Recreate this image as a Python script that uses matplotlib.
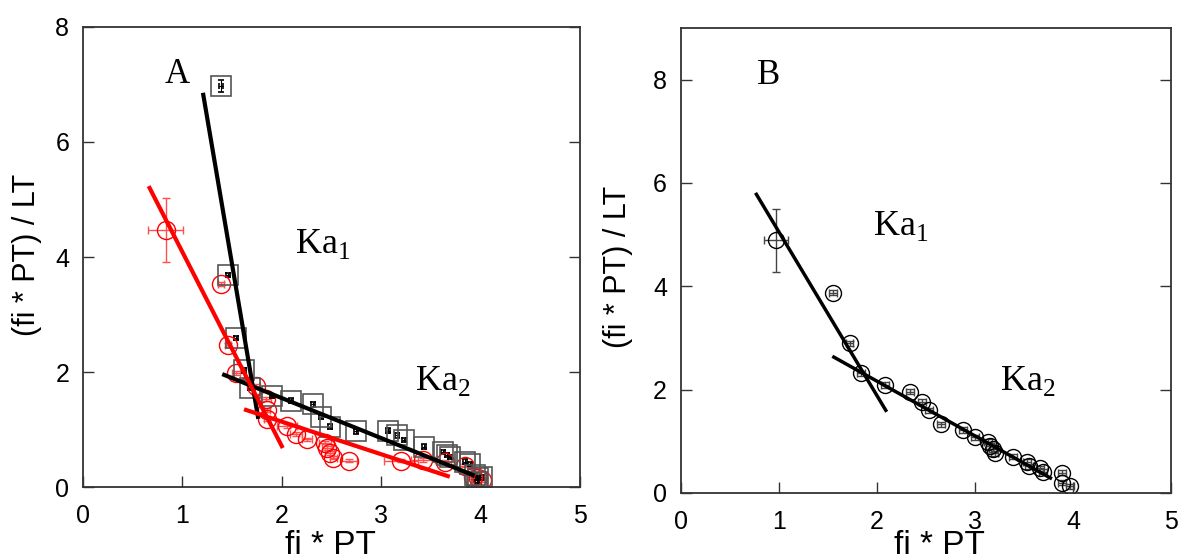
import matplotlib
matplotlib.use('Agg')
import matplotlib.pyplot as plt

plt.rcParams['font.family'] = ['Liberation Sans', 'DejaVu Sans']
plt.rcParams['mathtext.fontset'] = 'custom'
plt.rcParams['mathtext.rm'] = 'Liberation Serif'

# panel A, black squares
a_sq_x = [1.39, 1.46, 1.54, 1.62, 1.68, 1.90, 2.09, 2.31, 2.39, 2.48, 2.75, 3.07, 3.16, 3.23,
          3.43, 3.62, 3.66, 3.69, 3.84, 3.89, 3.94, 3.97, 4.01, 3.96]
a_sq_y = [6.97, 3.69, 2.59, 2.03, 1.72, 1.58, 1.50, 1.44, 1.22, 1.05, 0.97, 0.98, 0.90, 0.82,
          0.70, 0.61, 0.56, 0.52, 0.44, 0.40, 0.21, 0.16, 0.17, 0.09]
a_sq_xerr = [0.02] * len(a_sq_x)
a_sq_yerr = [0.10] + [0.04] * (len(a_sq_x) - 1)

# panel A, red circles
a_ci_x = [0.83, 1.39, 1.46, 1.54, 1.74, 1.84, 1.85, 1.85, 2.05, 2.14, 2.25, 2.43, 2.45, 2.48,
          2.52, 2.68, 3.20, 3.42, 3.64, 3.84, 3.92, 3.97, 4.01]
a_ci_y = [4.47, 3.53, 2.47, 1.98, 1.76, 1.53, 1.34, 1.18, 1.06, 0.92, 0.83, 0.77, 0.68, 0.59,
          0.51, 0.46, 0.46, 0.47, 0.44, 0.37, 0.17, 0.15, 0.12]
a_ci_xerr = [0.18, 0.03, 0.03, 0.04, 0.04, 0.05, 0.03, 0.03, 0.10, 0.06, 0.05, 0.06, 0.05, 0.05,
             0.04, 0.08, 0.17, 0.12, 0.06, 0.05, 0.04, 0.04, 0.04]
a_ci_yerr = [0.56] + [0.03] * (len(a_ci_x) - 1)

# panel A fit lines (end points)
a_black_steep = ([1.21, 1.76], [6.82, 1.22])
a_black_flat = ([1.42, 3.92], [1.95, 0.21])
a_red_steep = ([0.67, 2.00], [5.20, 0.71])
a_red_flat = ([1.64, 3.67], [1.34, 0.19])

# panel B, black circles
b_x = [0.97, 1.55, 1.72, 1.84, 2.08, 2.34, 2.46, 2.53, 2.65, 2.88, 3.00, 3.13, 3.15, 3.18,
       3.20, 3.39, 3.53, 3.55, 3.66, 3.69, 3.89, 3.89, 3.97]
b_y = [4.89, 3.88, 2.90, 2.32, 2.09, 1.96, 1.77, 1.60, 1.33, 1.22, 1.08, 0.99, 0.91, 0.85,
       0.77, 0.70, 0.60, 0.52, 0.48, 0.41, 0.39, 0.20, 0.13]
b_xerr = [0.12] + [0.04] * (len(b_x) - 1)
b_yerr = [0.61] + [0.05] * (len(b_x) - 1)

b_steep = ([0.77, 2.09], [5.78, 1.60])
b_flat = ([1.56, 3.77], [2.63, 0.29])


def style_axes(ax, ymax, yticks):
    ax.set_xlim(0, 5)
    ax.set_ylim(0, ymax)
    ax.set_xticks([0, 1, 2, 3, 4, 5])
    ax.set_yticks(yticks)
    ax.tick_params(direction='in', length=8, width=1, labelsize=18, right=True, color='#333333')
    ax.tick_params(axis='x', pad=12)
    ax.tick_params(axis='y', pad=10)
    for s in ax.spines.values():
        s.set_linewidth(1.3)
        s.set_color('#333333')


fig = plt.figure(figsize=(11.81, 5.59), dpi=100)
ax1 = fig.add_axes([0.0703, 0.1288, 0.4208, 0.8229])
ax2 = fig.add_axes([0.5766, 0.1181, 0.4149, 0.8318])

# panel A
ax1.errorbar(a_ci_x, a_ci_y, xerr=a_ci_xerr, yerr=a_ci_yerr, fmt='o', ms=13, mfc='none',
             mec='red', mew=1.0, ecolor='#ff5050', elinewidth=1.0, capsize=3, zorder=2)
ax1.errorbar(a_sq_x, a_sq_y, xerr=a_sq_xerr, yerr=a_sq_yerr, fmt='s', ms=14.5, mfc='none',
             mec='#555555', mew=1.2, ecolor='black', elinewidth=0.8, capsize=2, zorder=2)
ax1.plot(*a_black_steep, color='black', lw=3, zorder=3)
ax1.plot(*a_black_flat, color='black', lw=3, zorder=3)
ax1.plot(*a_red_steep, color='red', lw=3, zorder=3)
ax1.plot(*a_red_flat, color='red', lw=3, zorder=3)
style_axes(ax1, 8, [0, 2, 4, 6, 8])
ax1.text(0.82, 7.17, 'A', family='Liberation Serif', fontsize=25, va='center')
ax1.text(2.13, 4.24, r'$\mathrm{Ka}_1$', fontsize=26, va='center')
ax1.text(3.34, 1.86, r'$\mathrm{Ka}_2$', fontsize=26, va='center')

# panel B
ax2.errorbar(b_x, b_y, xerr=b_xerr, yerr=b_yerr, fmt='o', ms=11.5, mfc='none',
             mec='black', mew=1.0, ecolor='#444444', elinewidth=1.0, capsize=3, zorder=2)
ax2.plot(*b_steep, color='black', lw=2.5, zorder=3)
ax2.plot(*b_flat, color='black', lw=2.5, zorder=3)
style_axes(ax2, 9, [0, 2, 4, 6, 8])
ax2.text(0.78, 8.08, 'B', family='Liberation Serif', fontsize=25, va='center')
ax2.text(1.96, 5.18, r'$\mathrm{Ka}_1$', fontsize=26, va='center')
ax2.text(3.26, 2.18, r'$\mathrm{Ka}_2$', fontsize=26, va='center')

fig.text(330 / 1181, 1 - 546 / 559, 'fi * PT', fontsize=24, ha='center', va='center')
fig.text(939 / 1181, 1 - 546 / 559, 'fi * PT', fontsize=24, ha='center', va='center')
fig.text(27 / 1181, 1 - 255 / 559, '(fi * PT) / LT', fontsize=22, rotation=90,
         ha='center', va='center')
fig.text(618 / 1181, 1 - 267 / 559, '(fi * PT) / LT', fontsize=22, rotation=90,
         ha='center', va='center')

fig.savefig('out.png', dpi=100)
